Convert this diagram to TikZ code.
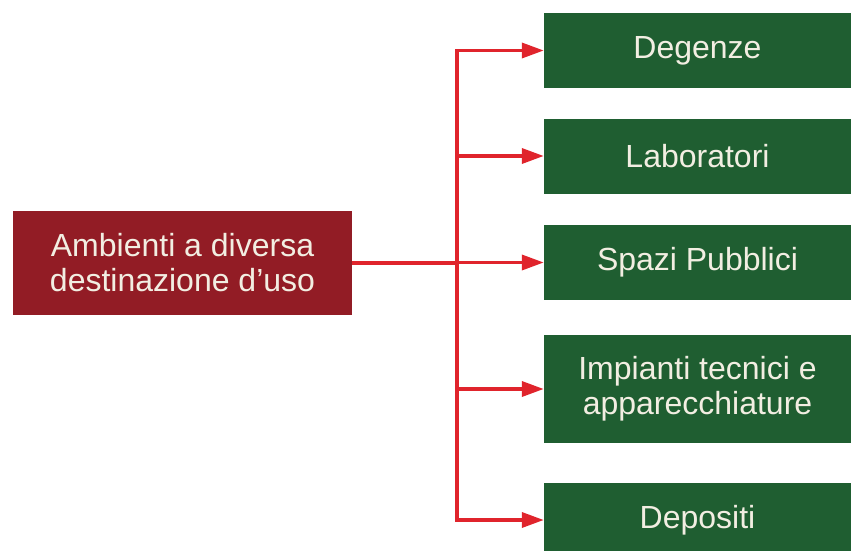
\documentclass[tikz,border=0pt]{standalone}
\usepackage{fontspec}
\setmainfont{Liberation Sans}
\usepackage{tikz}
\usetikzlibrary{arrows.meta}
\definecolor{boxred}{HTML}{921C25}
\definecolor{boxgreen}{HTML}{1F5E31}
\definecolor{linkred}{HTML}{E0242C}
\definecolor{paletext}{HTML}{F2EEE2}

\begin{document}
\begin{tikzpicture}[x=1pt,y=-1pt,
    box/.style={text=paletext,align=center,inner sep=0pt,
        font=\fontsize{32}{35}\selectfont},
    mainbox/.style={box,fill=boxred,minimum width=339pt,minimum height=104pt},
    leaf/.style={box,fill=boxgreen,minimum width=307pt,minimum height=75pt},
    link/.style={draw=linkred,line width=3.5pt}]
    \path[use as bounding box,clip] (0,0) rectangle (851,551);
    \node[mainbox] (amb) at (182.5,263) {Ambienti a diversa\\destinazione d'uso};
    \node[leaf] (degenze) at (697.5,50.5) {Degenze};
    \node[leaf] (laboratori) at (697.5,156) {Laboratori};
    \node[leaf] (spazi) at (697.5,262.5) {Spazi Pubblici};
    \node[leaf,minimum height=108pt] (impianti) at (697.5,389) {Impianti tecnici e\\apparecchiature};
    \node[leaf] (depositi) at (697.5,520) {Depositi};
    \coordinate (trunk) at (457,263);
    \draw[link] (amb.east) -- (trunk);
    \draw[link,line cap=rect] (trunk |- degenze.west) -- (trunk |- depositi.west);
    \foreach \n in {degenze,laboratori,spazi,impianti,depositi}
        \draw[link,-{Triangle[length=22pt,width=15pt]}] (trunk |- \n.west) -- (\n.west);
\end{tikzpicture}
\end{document}
